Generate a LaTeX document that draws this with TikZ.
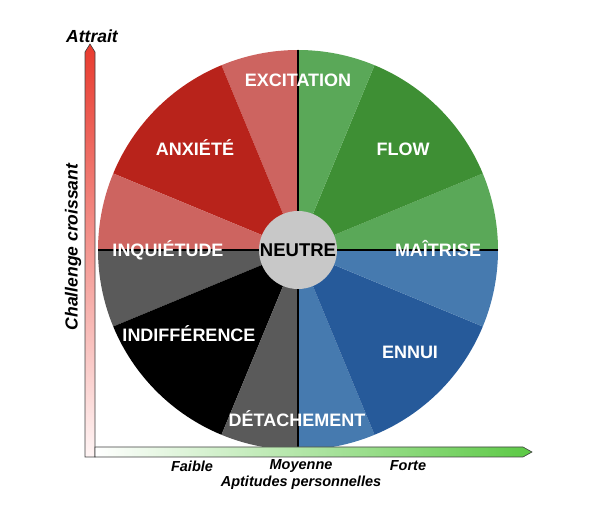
\documentclass[tikz,border=0pt]{standalone}
\usepackage{fontspec}
\setmainfont{Liberation Sans}
\definecolor{reddark}{RGB}{184,35,27}
\definecolor{redlight}{RGB}{205,100,96}
\definecolor{greendark}{RGB}{62,143,52}
\definecolor{greenlight}{RGB}{90,168,88}
\definecolor{bluedark}{RGB}{38,90,154}
\definecolor{bluelight}{RGB}{70,122,175}
\definecolor{graydark}{RGB}{90,90,90}
\definecolor{neutregray}{RGB}{200,200,200}
\definecolor{axisred}{RGB}{232,58,46}
\definecolor{axisgreen}{RGB}{92,201,69}
\tikzset{
  zone/.style={text=white,font=\bfseries\fontsize{18}{21}\selectfont,inner sep=0pt,text height=12.9pt,text depth=0pt},
  axislabel/.style={font=\bfseries\itshape\fontsize{17.5}{20}\selectfont,inner sep=0pt},
  ticklabel/.style={font=\bfseries\itshape\fontsize{14.5}{16}\selectfont,inner sep=0pt}
}
\begin{document}
\begin{tikzpicture}[x=1pt,y=1pt]
\useasboundingbox (0,0) rectangle (610,510);
\coordinate (c) at (298,260);
% wheel
\foreach \a/\b/\col in {0/22.5/greenlight,22.5/67.5/greendark,67.5/90/greenlight,90/112.5/redlight,112.5/157.5/reddark,157.5/180/redlight,180/202.5/graydark,202.5/247.5/black,247.5/270/graydark,270/292.5/bluelight,292.5/337.5/bluedark,337.5/360/bluelight}
{
\fill[\col] (c) -- ++(\a:200) arc[start angle=\a,end angle=\b,radius=200] -- cycle;
}
\draw[line width=1.2pt] (c) ++(0,200) -- ++(0,-400);
\draw[line width=1.2pt] (c) ++(-200,0) -- ++(400,0);
\node[circle,fill=neutregray,minimum size=78pt,inner sep=0pt,font=\bfseries\fontsize{18.5}{20}\selectfont] (neutre) at (c) {NEUTRE};
% zones
\node[zone] (excitation) at (298,430) {EXCITATION};
\node[zone] (anxiete) at (195,361) {ANXIÉTÉ};
\node[zone] (flow) at (403,361) {FLOW};
\node[zone] (inquietude) at (168,260) {INQUIÉTUDE};
\node[zone] (maitrise) at (438,260) {MAÎTRISE};
\node[zone] (indifference) at (189,175) {INDIFFÉRENCE};
\node[zone] (ennui) at (410,158) {ENNUI};
\node[zone] (detachement) at (297,90) {DÉTACHEMENT};
% axes
\path[draw=black!75,line width=0.6pt,top color=axisred,bottom color=red!4] (85,53) -- (95,53) -- (95,458) -- (90,466) -- (85,458) -- cycle;
\path[draw=black!75,line width=0.6pt,left color=white,right color=axisgreen] (95,53) -- (523,53) -- (532,58) -- (523,63) -- (95,63) -- cycle;
\node[axislabel] (attrait) at (92,474) {Attrait};
\node[axislabel,rotate=90] (challenge) at (73,263) {Challenge croissant};
\node[ticklabel] (faible) at (192,44) {Faible};
\node[ticklabel] (moyenne) at (301,44) {Moyenne};
\node[ticklabel] (forte) at (408,44) {Forte};
\node[ticklabel] (aptitudes) at (301,27) {Aptitudes personnelles};
\end{tikzpicture}
\end{document}
